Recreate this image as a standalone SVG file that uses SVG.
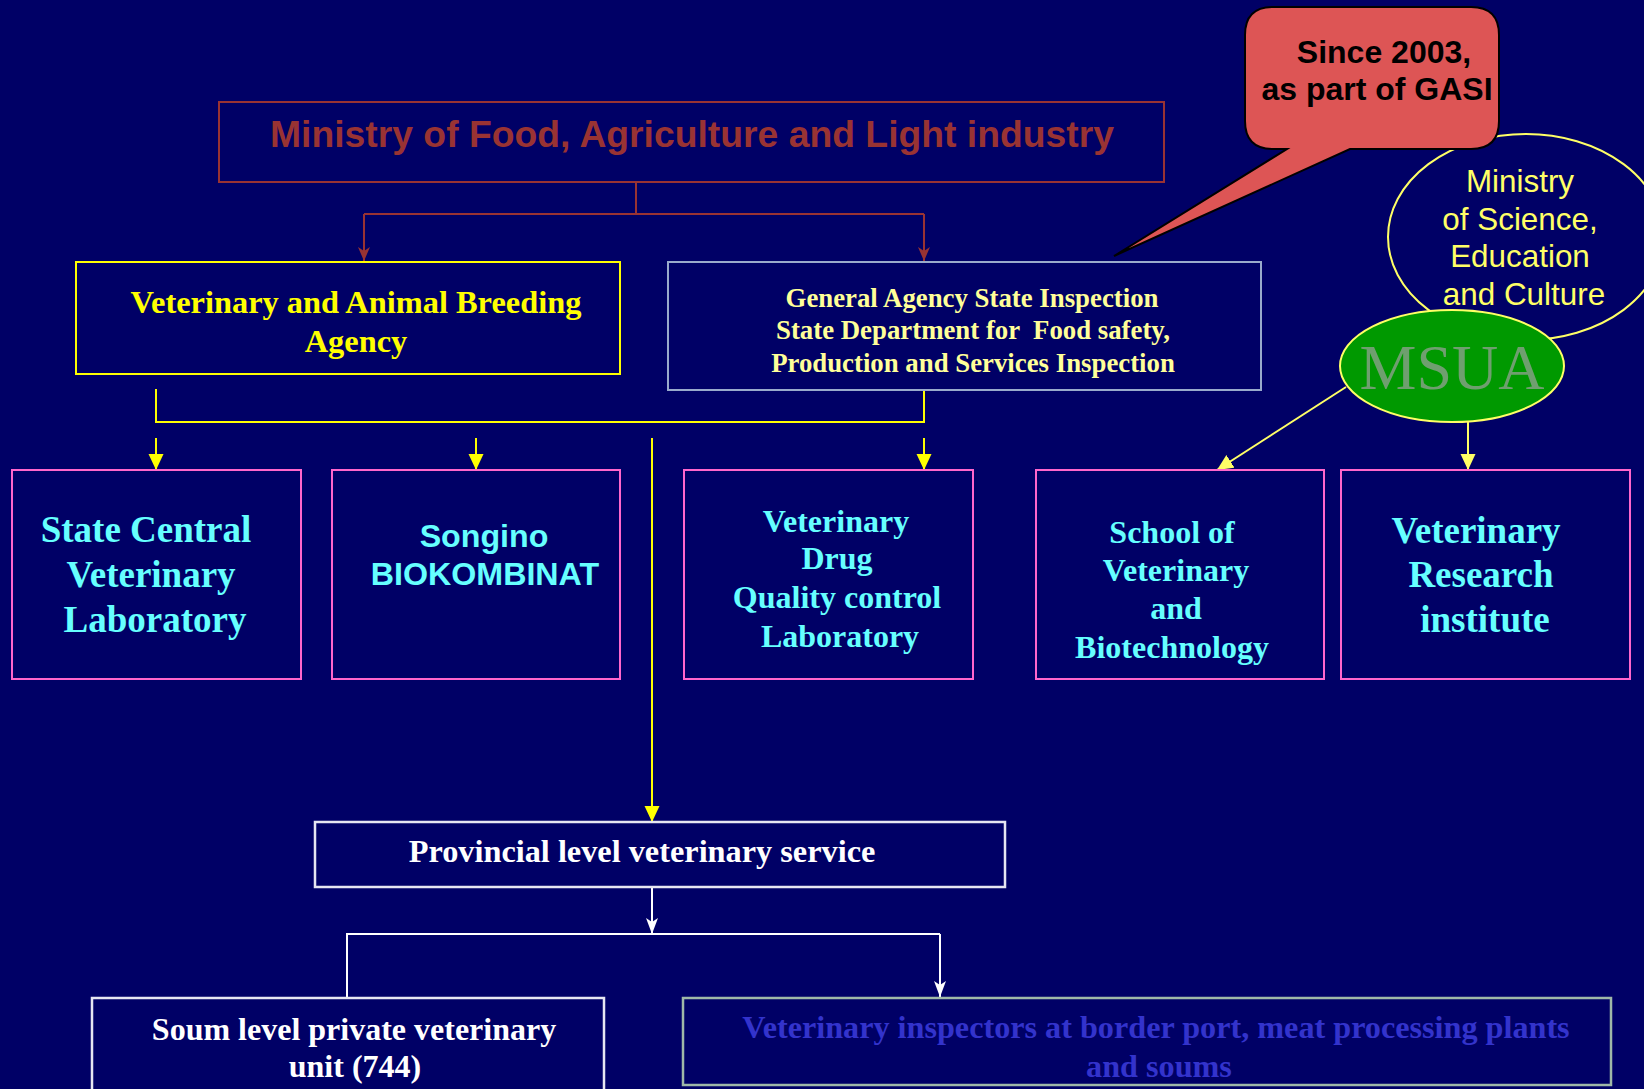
<svg xmlns="http://www.w3.org/2000/svg" width="1644" height="1089" viewBox="0 0 1644 1089">
<style>
.serif{font-family:"Liberation Serif","Times New Roman",serif;font-weight:bold}
.sans{font-family:"Liberation Sans",Arial,sans-serif}
.cy{fill:#66FFFF;font-size:32px}
.cyb{fill:#66FFFF;font-size:37px}
.pink{fill:none;stroke:#FF66CC;stroke-width:2}
.yl{fill:none;stroke:#FFFF00;stroke-width:2}
.wl{fill:none;stroke:#FFFFFF;stroke-width:2}
.br{fill:none;stroke:#993333;stroke-width:2}
.pre{white-space:pre}
</style>
<defs>
<marker id="ay" viewBox="0 0 16 16" markerWidth="16" markerHeight="16" refX="16" refY="8" orient="auto" markerUnits="userSpaceOnUse"><path d="M0,0.5 L16,8 L0,15.5 Z" fill="#FFFF00"/></marker>
<marker id="ayl" viewBox="0 0 16 16" markerWidth="16" markerHeight="16" refX="16" refY="8" orient="auto" markerUnits="userSpaceOnUse"><path d="M0,0.5 L16,8 L0,15.5 Z" fill="#FFFF66"/></marker>
<marker id="ab" viewBox="0 0 14 12" markerWidth="14" markerHeight="12" refX="14" refY="6" orient="auto" markerUnits="userSpaceOnUse"><path d="M0,0 L14,6 L0,12 L4,6 Z" fill="#993333"/></marker>
<marker id="aw" viewBox="0 0 16 12" markerWidth="16" markerHeight="12" refX="16" refY="6" orient="auto" markerUnits="userSpaceOnUse"><path d="M0,0 L16,6 L0,12 L4,6 Z" fill="#FFFFFF"/></marker>
</defs>
<rect width="1644" height="1089" fill="#000066"/>

<g id="connectors">
<path class="br" d="M636,182 V214 M364,214 H924" />
<path class="br" d="M364,214 V261" marker-end="url(#ab)"/>
<path class="br" d="M924,214 V261" marker-end="url(#ab)"/>
<path class="yl" d="M156,389 V422 H924 V390"/>
<path class="yl" d="M156,438 V470" marker-end="url(#ay)"/>
<path class="yl" d="M476,438 V470" marker-end="url(#ay)"/>
<path class="yl" d="M924,438 V470" marker-end="url(#ay)"/>
<path class="yl" d="M652,438 V822" marker-end="url(#ay)"/>
<path fill="none" stroke="#FFFF66" stroke-width="2" d="M1346,387 L1217,470" marker-end="url(#ayl)"/>
<path fill="none" stroke="#FFFF66" stroke-width="2" d="M1468,422 V470" marker-end="url(#ayl)"/>
<path class="wl" d="M652,887 V934" marker-end="url(#aw)"/>
<path class="wl" d="M347,998 V934 H940"/>
<path class="wl" d="M940,934 V997" marker-end="url(#aw)"/>
</g>

<g id="ministry-food">
<rect x="219" y="102" width="945" height="80" class="br"/>
<text x="692" y="147" text-anchor="middle" class="sans" font-weight="bold" font-size="37.3" fill="#993333">Ministry of Food, Agriculture and Light industry</text>
</g>

<g id="vet-agency">
<rect x="76" y="262" width="544" height="112" fill="none" stroke="#FFFF00" stroke-width="2"/>
<text class="serif" font-size="32.4" fill="#FFFF00" text-anchor="middle"><tspan x="356" y="313">Veterinary and Animal Breeding</tspan><tspan x="356" y="352">Agency</tspan></text>
</g>

<g id="gasi">
<rect x="668" y="262" width="593" height="128" fill="none" stroke="#99AACC" stroke-width="2"/>
<text class="serif pre" font-size="26.8" fill="#FFFF99" text-anchor="middle"><tspan x="972" y="307">General Agency State Inspection</tspan><tspan x="973" y="339">State Department for  Food safety,</tspan><tspan x="973" y="372">Production and Services Inspection</tspan></text>
</g>

<g id="ministry-science">
<ellipse cx="1526" cy="237" rx="138" ry="103" fill="#000066" stroke="#FFFF66" stroke-width="2"/>
<text class="sans" font-size="31.4" fill="#FFFF66" text-anchor="middle"><tspan x="1520" y="192">Ministry</tspan><tspan x="1520" y="230">of Science,</tspan><tspan x="1520" y="267">Education</tspan><tspan x="1524" y="305">and Culture</tspan></text>
</g>

<g id="msua">
<ellipse cx="1452" cy="366" rx="112" ry="56" fill="#009900" stroke="#FFFF66" stroke-width="2"/>
<text x="1452" y="389" text-anchor="middle" font-family="'Liberation Serif','Times New Roman',serif" font-size="64" fill="#6F9F6F">MSUA</text>
</g>

<g id="callout">
<path d="M1273,7 H1471 Q1499,7 1499,35 V121 Q1499,149 1471,149 H1350 L1114,256 L1287,149 H1273 Q1245,149 1245,121 V35 Q1245,7 1273,7 Z" fill="#DD5555" stroke="#000000" stroke-width="2"/>
<text class="sans" font-weight="bold" font-size="32" fill="#000000" text-anchor="middle"><tspan x="1384" y="63">Since 2003,</tspan><tspan x="1377" y="100">as part of GASI</tspan></text>
</g>

<g id="state-central-lab">
<rect x="12" y="470" width="289" height="209" class="pink"/>
<text class="serif cyb" text-anchor="middle"><tspan x="146" y="542">State Central</tspan><tspan x="151" y="587">Veterinary</tspan><tspan x="155" y="632">Laboratory</tspan></text>
</g>

<g id="songino">
<rect x="332" y="470" width="288" height="209" class="pink"/>
<text class="sans" font-weight="bold" font-size="32.2" fill="#66FFFF" text-anchor="middle"><tspan x="484" y="547">Songino</tspan><tspan x="485" y="585">BIOKOMBINAT</tspan></text>
</g>

<g id="drug-lab">
<rect x="684" y="470" width="289" height="209" class="pink"/>
<text class="serif cy" text-anchor="middle"><tspan x="836" y="532">Veterinary</tspan><tspan x="837" y="569">Drug</tspan><tspan x="837" y="608">Quality control</tspan><tspan x="840" y="647">Laboratory</tspan></text>
</g>

<g id="school-vet">
<rect x="1036" y="470" width="288" height="209" class="pink"/>
<text class="serif cy" text-anchor="middle"><tspan x="1172" y="543">School of</tspan><tspan x="1176" y="581">Veterinary</tspan><tspan x="1176" y="619">and</tspan><tspan x="1172" y="658">Biotechnology</tspan></text>
</g>

<g id="research-institute">
<rect x="1341" y="470" width="289" height="209" class="pink"/>
<text class="serif cyb" text-anchor="middle"><tspan x="1476" y="543">Veterinary</tspan><tspan x="1481" y="587">Research</tspan><tspan x="1485" y="632">institute</tspan></text>
</g>

<g id="provincial">
<rect x="315" y="822" width="690" height="65" fill="none" stroke="#E6E6F2" stroke-width="2.5"/>
<text x="642" y="862" text-anchor="middle" class="serif" font-size="32.3" fill="#FFFFFF">Provincial level veterinary service</text>
</g>

<g id="soum">
<rect x="92" y="998" width="512" height="110" fill="none" stroke="#E6E6F2" stroke-width="2.5"/>
<text class="serif" font-size="32" fill="#FFFFFF" text-anchor="middle"><tspan x="354" y="1040">Soum level private veterinary</tspan><tspan x="355" y="1077">unit (744)</tspan></text>
</g>

<g id="inspectors">
<rect x="683" y="998" width="928" height="87" fill="none" stroke="#9FB8A8" stroke-width="2.5"/>
<text class="serif" font-size="32.2" fill="#3333CC" text-anchor="middle"><tspan x="1156" y="1038">Veterinary inspectors at border port, meat processing plants</tspan><tspan x="1159" y="1077">and soums</tspan></text>
</g>
</svg>
